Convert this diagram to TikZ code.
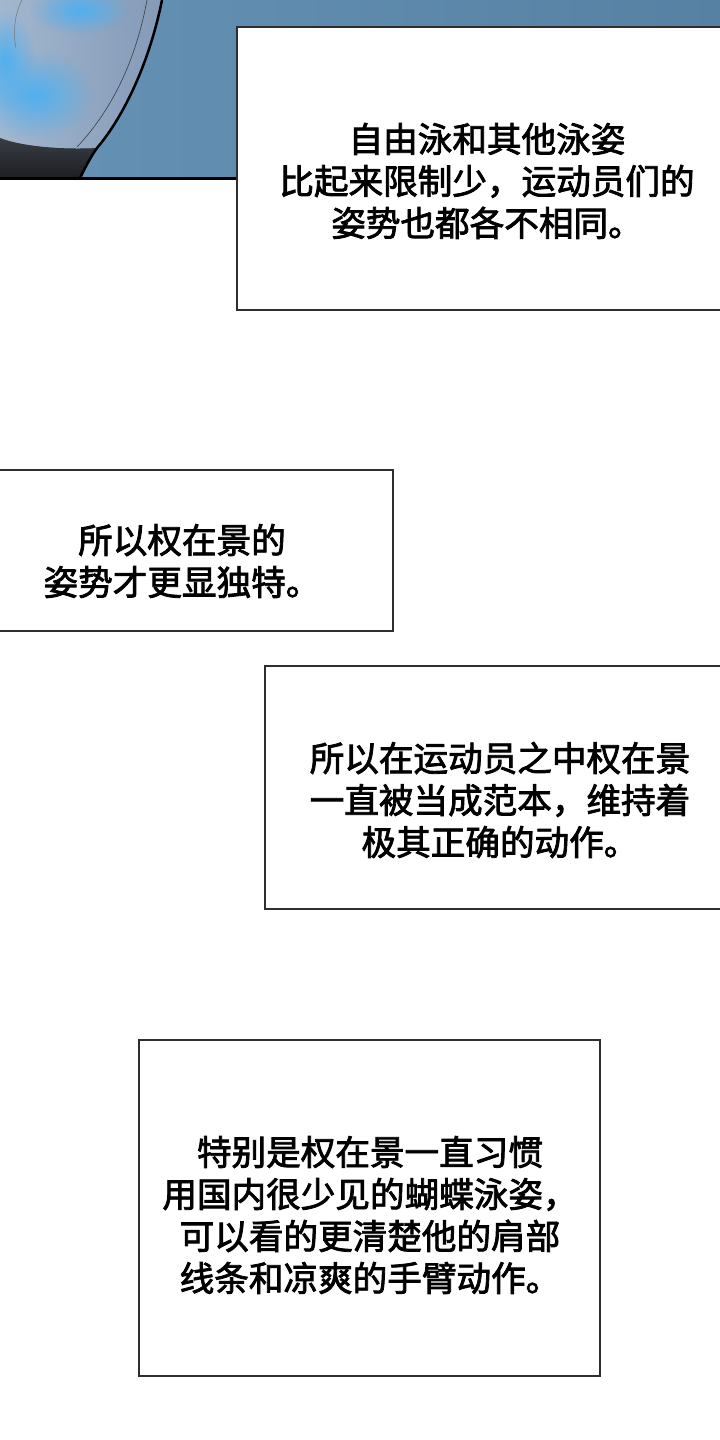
\documentclass[tikz,border=0pt]{standalone}
\usepackage{fontspec}
\setmainfont{Noto Sans CJK SC}
\newfontfamily\captionfont{Noto Sans CJK SC}[FakeBold=2.3]
\usetikzlibrary{fadings}
\tikzfading[name=softglow, inner color=transparent!0, outer color=transparent!100]
\definecolor{panelblue}{HTML}{5781A3}
\definecolor{panelbluelt}{HTML}{6592B5}
\definecolor{figlight}{HTML}{A3B7CF}
\definecolor{figmid}{HTML}{8298B5}
\definecolor{glow}{HTML}{4FB0F0}
\definecolor{figdark}{HTML}{1C1E22}
\definecolor{figdark2}{HTML}{3A3D44}
\definecolor{boxline}{HTML}{2E2E2E}
\tikzset{
  capbox/.style={fill=white, draw=boxline, line width=2pt},
  captext/.style={align=center, text=black, font=\captionfont\fontsize{34.6}{42}\selectfont, inner sep=0pt}
}
\begin{document}
\begin{tikzpicture}[x=1pt,y=-1pt]
\useasboundingbox (0,0) rectangle (720,1440);
\clip (0,0) rectangle (720,1440);
\fill[white] (0,0) rectangle (720,1440);
% top panel background
\shade[left color=panelbluelt, right color=panelblue] (0,0) rectangle (720,178);
% figure (light part)
\begin{scope}
  \clip (0,0) -- (162,0) .. controls (150,60) and (125,115) .. (97,148)
        .. controls (60,150) and (20,146) .. (0,138) -- cycle;
  \shade[left color=figlight, right color=figmid] (0,0) rectangle (170,180);
  \fill[glow, path fading=softglow] (35,95) ellipse (60 and 45);
  \fill[glow, path fading=softglow] (80,10) ellipse (50 and 25);
  \fill[glow, path fading=softglow] (5,60) ellipse (30 and 50);
\end{scope}
% dark lower part
\shade[top color=figdark2, bottom color=figdark]
  (0,138) .. controls (20,146) and (60,150) .. (97,148)
  .. controls (90,158) and (85,168) .. (80,178) -- (0,178) -- cycle;
% outlines
\draw[black, line width=2.5pt] (162,0) .. controls (150,60) and (125,115) .. (97,148)
  .. controls (90,158) and (85,168) .. (80,178);
\draw[figdark2, line width=0.6pt] (147,0) .. controls (136,60) and (112,110) .. (77,147);
\draw[figdark2!70, line width=0.5pt] (22,0) .. controls (14,15) and (13,35) .. (16,48);
% panel bottom line
\draw[black, line width=3pt] (0,178) -- (240,178);
% caption boxes
\draw[capbox] (237,27) rectangle (730,310);
\draw[capbox] (-10,470) rectangle (393,631);
\draw[capbox] (265,666) rectangle (730,909);
\draw[capbox] (139,1040) rectangle (600,1376);
% texts
\node[captext] (t1) at (487,181) {自由泳和其他泳姿\\比起来限制少，运动员们的\\姿势也都各不相同。};
\node[captext] (t2) at (182,561) {所以权在景的\\姿势才更显独特。};
\node[captext] (t3) at (500,800) {所以在运动员之中权在景\\一直被当成范本，维持着\\极其正确的动作。};
\node[captext] (t4) at (370,1215) {特别是权在景一直习惯\\用国内很少见的蝴蝶泳姿，\\可以看的更清楚他的肩部\\线条和凉爽的手臂动作。};
\end{tikzpicture}
\end{document}
